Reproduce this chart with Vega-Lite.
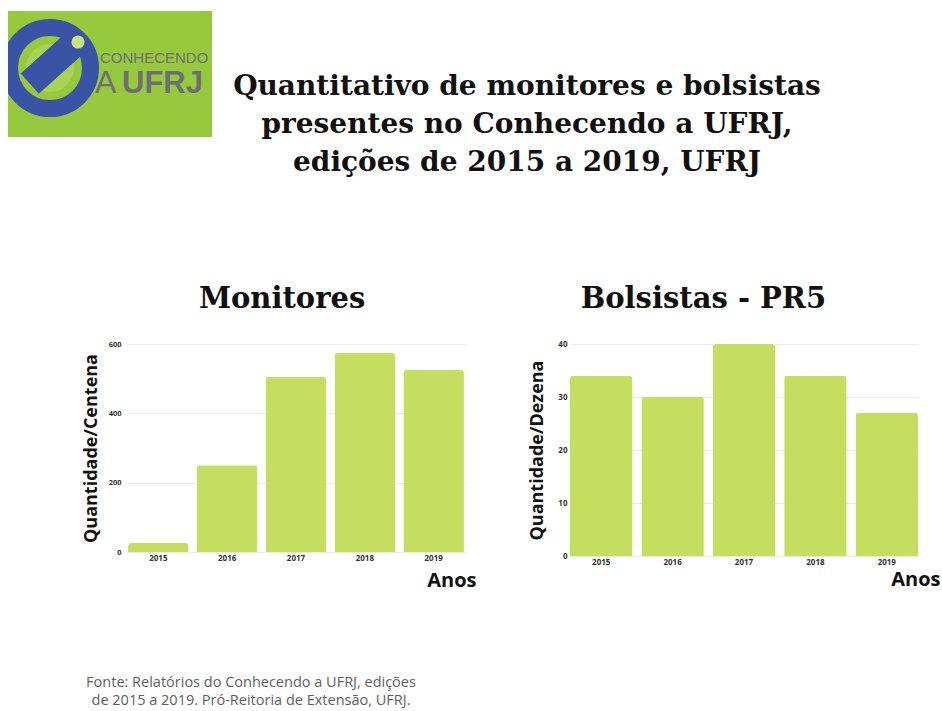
{
  "$schema": "https://vega.github.io/schema/vega-lite/v6.json",
  "padding": {"left": 8, "top": 11, "right": 0, "bottom": 0},
  "background": "white",
  "spacing": 46,
  "config": {
    "view": {"stroke": null},
    "axis": {
      "domain": false,
      "ticks": false,
      "labelFont": "Open Sans",
      "labelFontWeight": "bold",
      "labelFontSize": 8,
      "labelColor": "#333333",
      "titleFont": "Open Sans",
      "titleFontWeight": "bold",
      "titleFontSize": 18,
      "titleColor": "#111111",
      "gridColor": "#eaeaea",
      "gridWidth": 1
    }
  },
  "vconcat": [
    {
      "spacing": 15,
      "hconcat": [
        {
          "width": 204,
          "height": 126,
          "view": {"fill": "#96C93D", "stroke": null},
          "data": {"values": [
            {"elemento": "anel", "x": 42, "y": 57},
            {"elemento": "telescopio", "x": 47, "y": 50},
            {"elemento": "lente", "x": 70, "y": 31},
            {"elemento": "CONHECENDO", "x": 92, "y": 52},
            {"elemento": "A", "x": 87, "y": 82},
            {"elemento": "UFRJ", "x": 114, "y": 82}
          ]},
          "encoding": {
            "x": {"field": "x", "type": "quantitative", "scale": {"domain": [0, 204]}, "axis": null},
            "y": {"field": "y", "type": "quantitative", "scale": {"domain": [0, 126], "reverse": true}, "axis": null}
          },
          "layer": [
            {
              "transform": [{"filter": "datum.elemento === 'anel'"}],
              "mark": {"type": "point", "shape": "circle", "filled": false, "size": 6561, "strokeWidth": 17, "stroke": "#3B53A4", "opacity": 1, "clip": true}
            },
            {
              "transform": [{"filter": "datum.elemento === 'anel'"}],
              "mark": {"type": "point", "shape": "circle", "filled": true, "size": 2300, "fill": "#A9D354", "opacity": 1, "clip": true}
            },
            {
              "transform": [{"filter": "datum.elemento === 'telescopio'"}],
              "mark": {"type": "point", "shape": "M -1 -0.4 L 1 -0.4 L 1 0.4 L -1 0.4 Z", "filled": true, "size": 4600, "angle": 318, "fill": "#3B53A4", "opacity": 1, "clip": true}
            },
            {
              "transform": [{"filter": "datum.elemento === 'lente'"}],
              "mark": {"type": "point", "shape": "circle", "filled": true, "size": 260, "fill": "#C7E27A", "stroke": "#3B53A4", "strokeWidth": 3, "opacity": 1}
            },
            {
              "transform": [{"filter": "datum.elemento === 'CONHECENDO'"}],
              "mark": {"type": "text", "font": "Liberation Sans", "fontSize": 15, "align": "left", "baseline": "alphabetic", "color": "#6E6F72"},
              "encoding": {"text": {"field": "elemento"}}
            },
            {
              "transform": [{"filter": "datum.elemento === 'A'"}],
              "mark": {"type": "text", "font": "Liberation Sans", "fontSize": 32, "align": "left", "baseline": "alphabetic", "color": "#6E6F72"},
              "encoding": {"text": {"field": "elemento"}}
            },
            {
              "transform": [{"filter": "datum.elemento === 'UFRJ'"}],
              "mark": {"type": "text", "font": "Liberation Sans", "fontWeight": "bold", "fontSize": 31, "align": "left", "baseline": "alphabetic", "color": "#6E6F72"},
              "encoding": {"text": {"field": "elemento"}}
            }
          ]
        },
        {
          "width": 600,
          "height": 228,
          "data": {"values": [
            {"titulo": "Quantitativo de monitores e bolsistas\npresentes no Conhecendo a UFRJ,\nedições de 2015 a 2019, UFRJ"}
          ]},
          "mark": {"type": "text", "font": "DejaVu Serif", "fontWeight": "bold", "fontSize": 28, "lineHeight": 38, "lineBreak": "\n", "align": "center", "baseline": "middle", "dy": -38, "color": "#111111"},
          "encoding": {"text": {"field": "titulo", "type": "nominal"}}
        }
      ]
    },
    {
      "spacing": 52,
      "hconcat": [
        {
          "width": 22,
          "height": 10,
          "data": {"values": []},
          "mark": {"type": "text"},
          "encoding": {}
        },
        {
          "width": 340,
          "height": 208,
          "title": {"text": "Monitores", "font": "DejaVu Serif", "fontSize": 29, "fontWeight": "bold", "color": "#111111", "anchor": "middle", "frame": "bounds", "offset": 26, "dx": 3},
          "data": {"values": [
            {"ano": "2015", "quantidade": 26},
            {"ano": "2016", "quantidade": 250},
            {"ano": "2017", "quantidade": 505},
            {"ano": "2018", "quantidade": 574},
            {"ano": "2019", "quantidade": 525}
          ]},
          "mark": {"type": "bar", "color": "#C6DE60", "cornerRadiusEnd": 3},
          "encoding": {
            "x": {
              "field": "ano", "type": "ordinal",
              "scale": {"paddingInner": 0.12, "paddingOuter": 0.03},
              "axis": {"title": "Anos", "labelAngle": 0, "labelPadding": 2, "titleFontSize": 20, "titleX": 350, "titleY": 34, "titleAlign": "right", "titleBaseline": "alphabetic"}
            },
            "y": {
              "field": "quantidade", "type": "quantitative",
              "scale": {"domain": [0, 600]},
              "axis": {"title": "Quantidade/Centena", "values": [0, 200, 400, 600], "labelPadding": 5, "titlePadding": 8, "labelFontSize": 7.5}
            }
          }
        },
        {
          "width": 348,
          "height": 212,
          "title": {"text": "Bolsistas - PR5", "font": "DejaVu Serif", "fontSize": 29, "fontWeight": "bold", "color": "#111111", "anchor": "middle", "frame": "bounds", "offset": 26, "dx": -31},
          "data": {"values": [
            {"ano": "2015", "quantidade": 34},
            {"ano": "2016", "quantidade": 30},
            {"ano": "2017", "quantidade": 40},
            {"ano": "2018", "quantidade": 34},
            {"ano": "2019", "quantidade": 27}
          ]},
          "mark": {"type": "bar", "color": "#C6DE60", "cornerRadiusEnd": 3},
          "encoding": {
            "x": {
              "field": "ano", "type": "ordinal",
              "scale": {"paddingInner": 0.125, "paddingOuter": 0},
              "axis": {"title": "Anos", "labelAngle": 0, "labelPadding": 2, "titleFontSize": 20, "titleX": 370, "titleY": 29, "titleAlign": "right", "titleBaseline": "alphabetic"}
            },
            "y": {
              "field": "quantidade", "type": "quantitative",
              "scale": {"domain": [0, 40]},
              "axis": {"title": "Quantidade/Dezena", "values": [0, 10, 20, 30, 40], "labelPadding": 3, "titlePadding": 11}
            }
          }
        }
      ]
    },
    {
      "width": 486,
      "height": 94,
      "data": {"values": [
        {"fonte": "Fonte: Relatórios do Conhecendo a UFRJ, edições\nde 2015 a 2019. Pró-Reitoria de Extensão, UFRJ."}
      ]},
      "mark": {"type": "text", "font": "Open Sans", "fontSize": 14.5, "lineHeight": 18, "lineBreak": "\n", "align": "center", "baseline": "middle", "color": "#5f5f5f"},
      "encoding": {"text": {"field": "fonte", "type": "nominal"}}
    }
  ]
}
